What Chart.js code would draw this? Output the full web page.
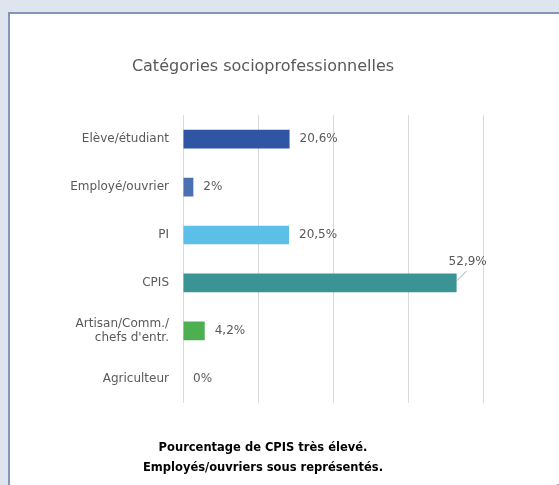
<!DOCTYPE html>
<html>
<head>
<meta charset="utf-8">
<script src="https://cdn.jsdelivr.net/npm/chart.js@4/dist/chart.umd.min.js"></script>
<style>
  html, body { margin: 0; padding: 0; }
  body { width: 559px; height: 485px; background: #dfe5ee; position: relative; overflow: hidden; }
  #panel {
    position: absolute; left: 8px; top: 12px; width: 566px; height: 472px;
    background: #fff; border: 2px solid #7f98b8; border-bottom-right-radius: 30px;
  }
  #wrap { position: absolute; left: 0; top: 0; width: 559px; height: 485px; }
</style>
</head>
<body>
<div id="panel"></div>
<div id="wrap"><canvas id="myChart" width="559" height="485"></canvas></div>
<script>
// data
var categories = ["Elève/étudiant", "Employé/ouvrier", "PI", "CPIS", ["Artisan/Comm./", "chefs d'entr."], "Agriculteur"];
var values = [20.6, 2, 20.5, 52.9, 4.2, 0];
var valueLabels = ["20,6%", "2%", "20,5%", "52,9%", "4,2%", "0%"];
var barColors = ["#2f55a4", "#4a70b2", "#5bbfe8", "#3a9494", "#4caf50", "#999999"];
var gridMax = 58;

var textGray = "#595959";

// labels at the end of the bars, the big one sits above with a small leader line
var valueLabelPlugin = {
  id: "valueLabels",
  afterDatasetsDraw: function (chart) {
    var ctx = chart.ctx;
    var meta = chart.getDatasetMeta(0);
    ctx.save();
    ctx.font = "12px 'DejaVu Sans'";
    ctx.fillStyle = textGray;
    ctx.textBaseline = "middle";
    meta.data.forEach(function (bar, i) {
      if (i == 3) {
        ctx.strokeStyle = "#a6a6a6";
        ctx.lineWidth = 1;
        ctx.beginPath();
        ctx.moveTo(bar.x, bar.y - 2);
        ctx.lineTo(bar.x + 10, bar.y - 12);
        ctx.stroke();
        ctx.textAlign = "left";
        ctx.fillText(valueLabels[i], bar.x - 8, bar.y - 21);
      } else {
        ctx.textAlign = "left";
        ctx.fillText(valueLabels[i], bar.x + 10, bar.y);
      }
    });
    ctx.restore();
  }
};

new Chart("myChart", {
  type: "bar",
  data: {
    labels: categories,
    datasets: [
      {
        data: values,
        backgroundColor: barColors,
        barPercentage: 0.78,
        categoryPercentage: 0.5
      }
    ]
  },
  plugins: [valueLabelPlugin],
  options: {
    indexAxis: "y",
    responsive: false,
    animation: false,
    layout: { padding: { left: 43, right: 76, top: 57, bottom: 0 } },
    plugins: {
      legend: { display: false },
      tooltip: { enabled: false },
      title: {
        display: true,
        text: "Catégories socioprofessionnelles",
        color: textGray,
        font: { family: "'DejaVu Sans'", size: 16, weight: "normal" },
        padding: { top: 0, bottom: 39 }
      },
      subtitle: {
        display: true,
        position: "bottom",
        text: ["Pourcentage de CPIS très élevé.", "Employés/ouvriers sous représentés."],
        color: "#000",
        font: { family: "'DejaVu Sans'", size: 11.5, weight: "bold", lineHeight: 1.75 },
        padding: { top: 35, bottom: 7 }
      }
    },
    scales: {
      x: {
        min: 0,
        max: gridMax,
        ticks: { display: false, count: 5 },
        grid: { color: "#d9d9d9", drawTicks: false },
        border: { display: false }
      },
      y: {
        ticks: {
          color: textGray,
          font: { family: "'DejaVu Sans'", size: 12 },
          padding: 14
        },
        grid: { display: false, drawTicks: false },
        border: { display: false },
        afterFit: function (scale) { scale.width = 140; }
      }
    }
  }
});
</script>
</body>
</html>
